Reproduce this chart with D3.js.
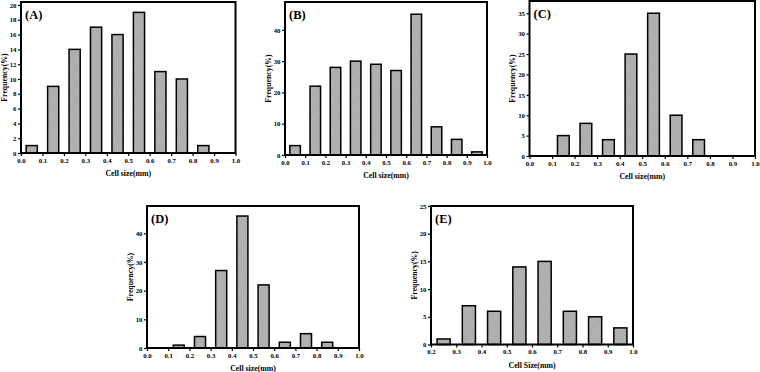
<!DOCTYPE html>
<html lang="en">
    <head>
        <meta charset="utf-8">
        <title>Cell size distributions</title>
        <script src="https://d3js.org/d3.v7.min.js"></script>
        <style type="text/css">
            body {
                margin: 0;
                background: white;
            }
            .axis path {
                display: none;
            }
            .axis line {
                stroke: black;
                stroke-width: 1.2px;
            }
            .axis text {
                font-family: "Liberation Serif", serif;
                font-weight: bold;
                font-size: 6.8px;
                fill: black;
            }
            .title {
                font-family: "Liberation Serif", serif;
                font-weight: bold;
                fill: black;
            }
            .frame {
                fill: none;
                stroke: black;
                stroke-width: 2px;
            }
            .bar {
                fill: url(#hatch);
                stroke: black;
                stroke-width: 1.5px;
            }
        </style>
    </head>
    <body>
        <script type="text/javascript">

            // bin centres (mm) and frequencies (%) per sample
            const centersA = [0.05, 0.15, 0.25, 0.35, 0.45, 0.55, 0.65, 0.75, 0.85];
            const valuesA  = [1, 9, 14, 17, 16, 19, 11, 10, 1];

            const centersB = [0.05, 0.15, 0.25, 0.35, 0.45, 0.55, 0.65, 0.75, 0.85, 0.95];
            const valuesB  = [3, 22, 28, 30, 29, 27, 45, 9, 5, 1];

            const centersC = [0.15, 0.25, 0.35, 0.45, 0.55, 0.65, 0.75];
            const valuesC  = [5, 8, 4, 25, 35, 10, 4];

            const centersD = [0.15, 0.25, 0.35, 0.45, 0.55, 0.65, 0.75, 0.85];
            const valuesD  = [1, 4, 27, 46, 22, 2, 5, 2];

            const centersE = [0.25, 0.35, 0.45, 0.55, 0.65, 0.75, 0.85, 0.95];
            const valuesE  = [1, 7, 6, 14, 15, 6, 5, 3];

            // tick labels
            const xTicks   = [0, 0.1, 0.2, 0.3, 0.4, 0.5, 0.6, 0.7, 0.8, 0.9, 1.0];
            const xTicksE  = [0.2, 0.3, 0.4, 0.5, 0.6, 0.7, 0.8, 0.9, 1.0];
            const yTicksA  = [0, 2, 4, 6, 8, 10, 12, 14, 16, 18, 20];
            const yTicksB  = [0, 10, 20, 30, 40];
            const yTicksC  = [0, 5, 10, 15, 20, 25, 30, 35];
            const yTicksD  = [0, 10, 20, 30, 40];
            const yTicksE  = [0, 5, 10, 15, 20, 25];

            const w = 760;
            const h = 372;
            const barWidth = 0.052; // in mm, along x

            const svg = d3.select("body")
                .append("svg")
                .attr("width", w)
                .attr("height", h);

            // fine diagonal hatch used by the bars
            const pattern = svg.append("defs")
                .append("pattern")
                .attr("id", "hatch")
                .attr("patternUnits", "userSpaceOnUse")
                .attr("width", 2)
                .attr("height", 2)
                .attr("patternTransform", "rotate(45)");
            pattern.append("rect")
                .attr("width", 2)
                .attr("height", 2)
                .attr("fill", "#bdbdbd");
            pattern.append("line")
                .attr("x1", 0).attr("y1", 0)
                .attr("x2", 0).attr("y2", 2)
                .attr("stroke", "#707070")
                .attr("stroke-width", 0.7);

            const panels = [
                {label: "(A)", centers: centersA, values: valuesA, xDom: [0, 1], xT: xTicks, yMax: 20.4, yT: yTicksA,
                 left: 21, right: 235.5, top: 2, bottom: 153, xTitle: "Cell size(mm)"},
                {label: "(B)", centers: centersB, values: valuesB, xDom: [0, 1], xT: xTicks, yMax: 48.9, yT: yTicksB,
                 left: 285, right: 487, top: 2, bottom: 155, xTitle: "Cell size(mm)"},
                {label: "(C)", centers: centersC, values: valuesC, xDom: [0, 1], xT: xTicks, yMax: 38, yT: yTicksC,
                 left: 529.5, right: 755, top: 1, bottom: 156, xTitle: "Cell size(mm)"},
                {label: "(D)", centers: centersD, values: valuesD, xDom: [0, 1], xT: xTicks, yMax: 49.5, yT: yTicksD,
                 left: 147, right: 359, top: 206, bottom: 348, xTitle: "Cell size(mm)"},
                {label: "(E)", centers: centersE, values: valuesE, xDom: [0.2, 1], xT: xTicksE, yMax: 25, yT: yTicksE,
                 left: 431, right: 633, top: 206, bottom: 344.5, xTitle: "Cell Size(mm)"}
            ];

            panels.forEach(p => {
                const xScale = d3.scaleLinear()
                    .domain(p.xDom)
                    .range([p.left, p.right]);

                const yScale = d3.scaleLinear()
                    .domain([0, p.yMax])
                    .range([p.bottom, p.top]);

                const data = p.centers.map((c, i) => ({c: c, v: p.values[i]}));

                const g = svg.append("g");

                //bars
                g.selectAll(".bar")
                    .data(data)
                    .join("rect")
                    .attr("class", "bar")
                    .attr("x", d => xScale(d.c - barWidth / 2))
                    .attr("width", d => xScale(d.c + barWidth / 2) - xScale(d.c - barWidth / 2))
                    .attr("y", d => yScale(d.v))
                    .attr("height", d => yScale(0) - yScale(d.v));

                //bottom axis
                g.append("g")
                    .attr("class", "axis")
                    .attr("transform", "translate(0," + p.bottom + ")")
                    .call(d3.axisBottom(xScale)
                        .tickValues(p.xT)
                        .tickSize(3)
                        .tickPadding(2)
                        .tickFormat(d3.format(".1f")));

                //left axis
                g.append("g")
                    .attr("class", "axis")
                    .attr("transform", "translate(" + p.left + ",0)")
                    .call(d3.axisLeft(yScale)
                        .tickValues(p.yT)
                        .tickSize(3)
                        .tickPadding(1.5));

                //frame
                g.append("rect")
                    .attr("class", "frame")
                    .attr("x", p.left)
                    .attr("y", p.top)
                    .attr("width", p.right - p.left)
                    .attr("height", p.bottom - p.top);

                //titles
                g.append("text")
                    .attr("class", "title")
                    .attr("x", p.left + 4)
                    .attr("y", p.top + 17)
                    .style("font-size", "12.5px")
                    .text(p.label);

                g.append("text")
                    .attr("class", "title")
                    .attr("x", (p.left + p.right) / 2)
                    .attr("y", p.bottom + 23)
                    .attr("text-anchor", "middle")
                    .style("font-size", "7.8px")
                    .text(p.xTitle);

                g.append("text")
                    .attr("class", "title")
                    .attr("transform", "translate(" + (p.left - 17) + "," + ((p.top + p.bottom) / 2) + ") rotate(-90)")
                    .attr("text-anchor", "middle")
                    .attr("dy", "0.35em")
                    .style("font-size", "7.8px")
                    .text("Frequency(%)");
            });
        </script>
    </body>
</html>
